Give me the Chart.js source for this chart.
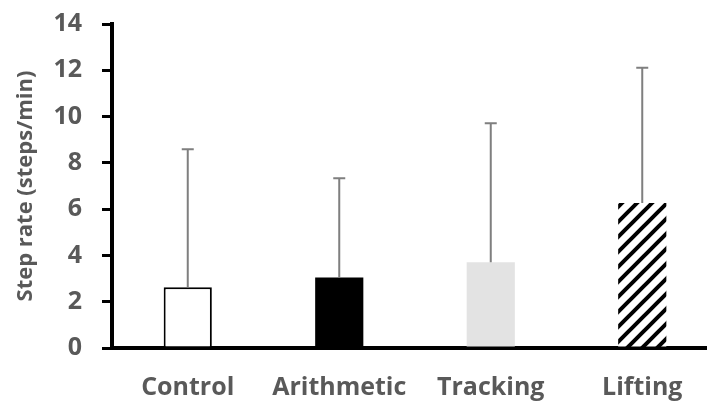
<!DOCTYPE html>
<html>
<head>
<meta charset="utf-8">
<script src="https://cdn.jsdelivr.net/npm/chart.js@4"></script>
<style>
  html, body { margin: 0; padding: 0; background: #fff; overflow: hidden; }
  #wrap { width: 722px; height: 406px; }
</style>
</head>
<body>
<div id="wrap"><canvas id="stepChart" width="722" height="406"></canvas></div>
<script>
// données
const categories = ["Control", "Arithmetic", "Tracking", "Lifting"];
const means = [2.63, 3.05, 3.7, 6.27];
const sds = [5.96, 4.28, 6.01, 5.84];
const yTicks = [0, 2, 4, 6, 8, 10, 12, 14];

const textColor = "#595959";
const fontFamily = "'Open Sans', sans-serif";

// motif hachuré pour Lifting
function hatch() {
  const c = document.createElement("canvas");
  c.width = 15;
  c.height = 15;
  const g = c.getContext("2d");
  g.fillStyle = "#fff";
  g.fillRect(0, 0, 15, 15);
  g.strokeStyle = "#000";
  g.lineWidth = 4;
  g.beginPath();
  g.moveTo(-2, 17); g.lineTo(17, -2);
  g.moveTo(-5, 5); g.lineTo(5, -5);
  g.moveTo(10, 20); g.lineTo(20, 10);
  g.stroke();
  return g.createPattern(c, "repeat");
}

// barres d'erreur (vers le haut seulement)
const errorBars = {
  id: "errorBars",
  afterDatasetsDraw(chart) {
    const ctx = chart.ctx;
    const y = chart.scales.y;
    chart.getDatasetMeta(0).data.forEach((bar, i) => {
      const top = y.getPixelForValue(means[i] + sds[i]);
      ctx.save();
      ctx.strokeStyle = "#7f7f7f";
      ctx.lineWidth = 2;
      ctx.beginPath();
      ctx.moveTo(bar.x, bar.y);
      ctx.lineTo(bar.x, top);
      ctx.moveTo(bar.x - 6, top);
      ctx.lineTo(bar.x + 6, top);
      ctx.stroke();
      ctx.restore();
    });
  },
};

new Chart(document.getElementById("stepChart"), {
  type: "bar",
  data: {
    labels: categories,
    datasets: [
      {
        data: means,
        backgroundColor: ["#ffffff", "#000000", "#e3e3e3", hatch()],
        borderColor: ["#000000", "#000000", "#e3e3e3", "rgba(0,0,0,0)"],
        borderWidth: [2, 0, 0, 0],
        borderSkipped: "bottom",
        categoryPercentage: 1,
        barPercentage: 0.318,
      },
    ],
  },
  options: {
    responsive: false,
    animation: false,
    layout: { padding: { left: 13, top: 24, right: 4, bottom: 0 } },
    plugins: { legend: { display: false }, tooltip: { enabled: false } },
    scales: {
      x: {
        afterFit(scale) {
          scale.height = 58;
          scale.paddingLeft = 0;
          scale.paddingRight = 0;
        },
        grid: { drawOnChartArea: false, drawTicks: false },
        border: { color: "#000", width: 4 },
        ticks: {
          color: textColor,
          padding: 25,
          font: { family: fontFamily, weight: "bold", size: 25 },
        },
      },
      y: {
        min: 0,
        max: 14,
        afterFit(scale) {
          scale.width = 99;
          scale.paddingTop = 0;
          scale.paddingBottom = 0;
        },
        afterBuildTicks(scale) { scale.ticks = yTicks.map((v) => ({ value: v })); },
        grid: { drawOnChartArea: false, drawTicks: true, tickLength: 10, color: "#000", lineWidth: 3 },
        border: { color: "#000", width: 4 },
        ticks: {
          color: textColor,
          padding: 20,
          font: { family: fontFamily, weight: "bold", size: 25 },
        },
        title: {
          display: true,
          text: "Step rate (steps/min)",
          color: textColor,
          padding: 0,
          font: { family: fontFamily, weight: "bold", size: 22 },
        },
      },
    },
  },
  plugins: [errorBars],
});
</script>
</body>
</html>
